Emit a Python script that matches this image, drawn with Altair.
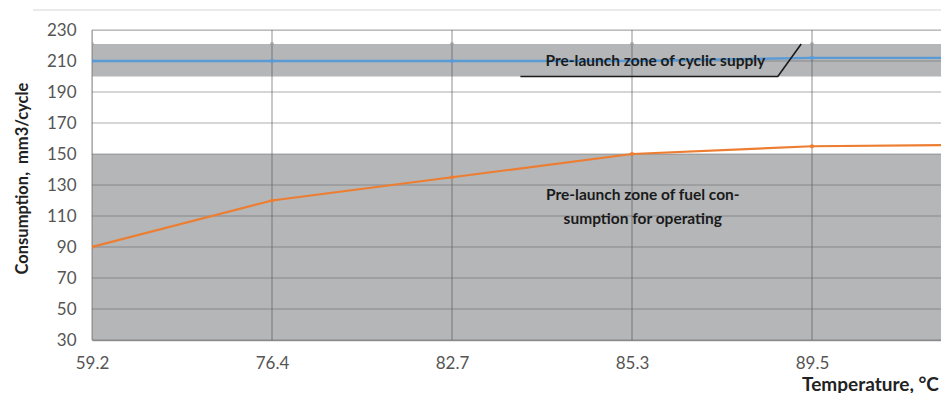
import altair as alt
import pandas as pd

# ---- data ----
temperatures = ["59.2", "76.4", "82.7", "85.3", "89.5", ""]   # last category lies beyond the visible edge
fuel_consumption = [90, 120, 135, 150, 155, 156]
cyclic_supply = [210, 210, 210, 210, 212, 212]
supply_zone_low = [200, 200, 200, 200, 200, 200]
supply_zone_high = [221, 221, 221, 221, 221, 221]
fuel_zone_low = [30, 30, 30, 30, 30, 30]
fuel_zone_high = [150, 150, 150, 150, 150, 150]
y_ticks = [30, 50, 70, 90, 110, 130, 150, 170, 190, 210, 230]

# annotation texts and callout leader (data coords: category index, consumption)
zone1_label = ["Pre-launch zone of cyclic supply"]
zone1_label_pos = [(3.13, 210)]
leader_x = [2.38, 3.81, 3.94]
leader_y = [200, 200, 221]
zone2_lines = ["Pre-launch zone of fuel con-", "sumption for operating"]
zone2_pos = [(3.06, 123.5), (3.06, 108)]

n_vis = 5
W, H = 849, 310
x_max = W / 180.0
idx = list(range(len(temperatures)))

df = pd.DataFrame({
    "i": idx,
    "temp": temperatures,
    "fuel": fuel_consumption,
    "cyc": cyclic_supply,
    "z1lo": supply_zone_low, "z1hi": supply_zone_high,
    "z2lo": fuel_zone_low, "z2hi": fuel_zone_high,
})

label_expr = "[" + ",".join("'%s'" % t for t in temperatures[:n_vis]) + "][datum.value]"

xscale = alt.Scale(domain=[0, x_max], nice=False, zero=False)
yscale = alt.Scale(domain=[30, 230], nice=False, zero=False)

FONT = "Lato"

x_axis = alt.Axis(
    values=list(range(n_vis)), labelExpr=label_expr, grid=False, ticks=False,
    labelFlush=False, labelOverlap=False,
    labelPadding=15, labelFontSize=17, labelColor="#555555", labelFont=FONT,
    domainColor="#9a9a9a", domainWidth=1.5,
    title="Temperature, °C", titleFont=FONT, titleFontSize=19, titleFontWeight="bold",
    titleColor="#222222", titleX=778, titleY=50, titleAlign="center", titleBaseline="alphabetic")
y_axis = alt.Axis(
    values=y_ticks, grid=False, ticks=False, domain=False, labelOverlap=False,
    labelPadding=16, labelFontSize=17, labelColor="#555555", labelFont=FONT,
    title="Consumption,\u00a0 mm3/cycle", titleFont=FONT, titleFontSize=16.5, titleFontWeight="bold",
    titleColor="#222222", titleX=-70, titleY=148, titleAngle=270,
    titleAlign="center", titleBaseline="middle")


def X(field):
    return alt.X(field, scale=xscale, axis=x_axis)


def Y(field):
    return alt.Y(field, scale=yscale, axis=y_axis)


base = alt.Chart(df)

band1 = base.mark_area(color="#b4b6b8", clip=True).encode(
    x=X("i:Q"), y=Y("z1hi:Q"), y2="z1lo:Q")
band2 = base.mark_area(color="#b4b6b8", clip=True).encode(
    x=X("i:Q"), y=Y("z2hi:Q"), y2="z2lo:Q")
band1_pts = base.mark_point(filled=True, size=14, color="#9a9a9a", opacity=0.8, clip=True).encode(
    x=X("i:Q"), y=Y("z1hi:Q"))

hgrid = alt.Chart(pd.DataFrame({"v": y_ticks})).mark_rule(
    color="#5a5a5a", opacity=0.33, strokeWidth=1.5).encode(
    y=Y("v:Q"), x=alt.value(0), x2=alt.value(W))
vgrid = alt.Chart(pd.DataFrame({"v": idx[:n_vis]})).mark_rule(
    color="#5a5a5a", opacity=0.45, strokeWidth=1.5).encode(
    x=X("v:Q"), y=alt.value(0), y2=alt.value(H))

top_rule = alt.Chart(pd.DataFrame({"v": [0]})).mark_rule(
    color="#d6d6d6", strokeWidth=1).encode(
    x=alt.value(-59), x2=alt.value(W), y=alt.value(-20))

blue = base.mark_line(color="#5b9bd5", strokeWidth=2.4, clip=True).encode(
    x=X("i:Q"), y=Y("cyc:Q"))
blue_pts = base.mark_point(filled=True, size=18, color="#5b9bd5", opacity=1, clip=True).encode(
    x=X("i:Q"), y=Y("cyc:Q"))
orange = base.mark_line(color="#ed7d31", strokeWidth=2.2, clip=True).encode(
    x=X("i:Q"), y=Y("fuel:Q"))
orange_pts = base.mark_point(filled=True, size=18, color="#ed7d31", opacity=1, clip=True).encode(
    x=X("i:Q"), y=Y("fuel:Q"))

leader = alt.Chart(pd.DataFrame({"x": leader_x, "y": leader_y, "o": [0, 1, 2]})).mark_line(
    color="#1a1a1a", strokeWidth=1.6).encode(
    x=X("x:Q"), y=Y("y:Q"), order="o:Q")

t1 = alt.Chart(pd.DataFrame({"t": zone1_label, "x": [p[0] for p in zone1_label_pos],
                             "y": [p[1] for p in zone1_label_pos]})).mark_text(
    font=FONT, fontSize=15.5, fontWeight="bold", color="#1a1a1a", align="center", baseline="middle").encode(
    x=X("x:Q"), y=Y("y:Q"), text="t:N")
t2 = alt.Chart(pd.DataFrame({"t": zone2_lines, "x": [p[0] for p in zone2_pos],
                             "y": [p[1] for p in zone2_pos]})).mark_text(
    font=FONT, fontSize=15.5, fontWeight="bold", color="#1a1a1a", align="center", baseline="middle").encode(
    x=X("x:Q"), y=Y("y:Q"), text="t:N")

chart = alt.layer(
    band1, band2, hgrid, vgrid, band1_pts, top_rule,
    blue, blue_pts, orange, orange_pts, leader, t1, t2
).properties(
    width=W, height=H,
    autosize=alt.AutoSizeParams(type="none"),
    padding={"left": 84, "top": 22, "right": 0, "bottom": 53},
).configure_view(stroke=None).configure(background="white")

chart.save("out.html", embed_options={"renderer": "svg", "actions": False})
